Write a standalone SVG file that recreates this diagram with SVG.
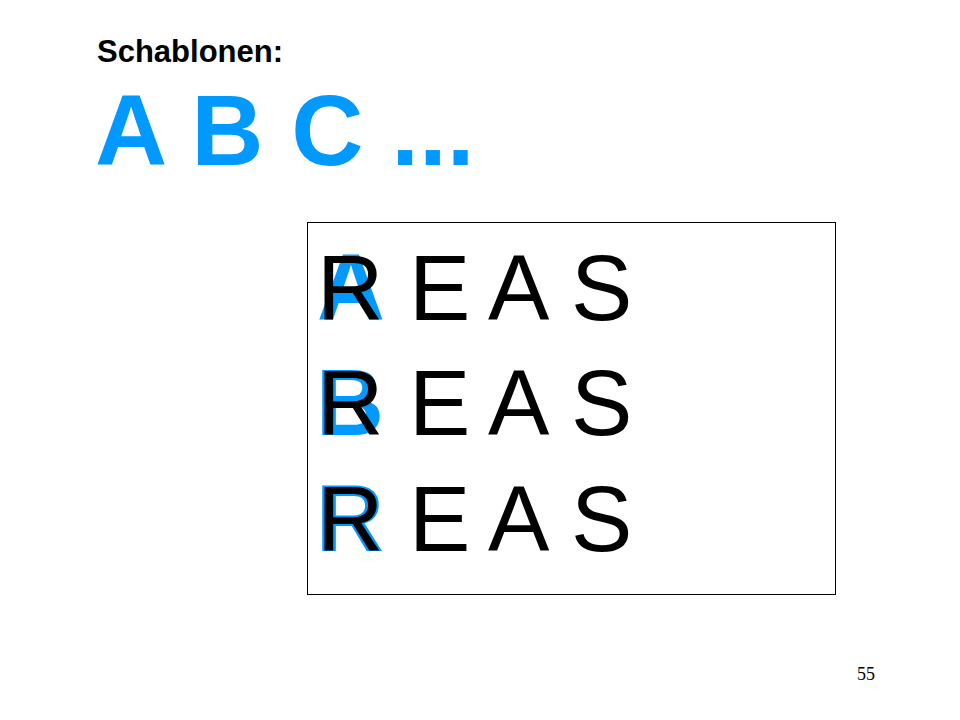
<svg xmlns="http://www.w3.org/2000/svg" width="960" height="720" viewBox="0 0 960 720">
<style>
.hd{font-family:"Liberation Sans",Arial,sans-serif;font-weight:bold;fill:#000}
.big{font-family:"Liberation Sans",Arial,sans-serif;font-weight:bold;fill:#0099FF}
.blue{font-family:"Liberation Sans",Arial,sans-serif;font-weight:bold;font-size:94px;fill:#0099FF}
.row{font-family:"Liberation Sans",Arial,sans-serif;font-size:92px;fill:#000}
.pg{font-family:"Liberation Serif","Times New Roman",serif;font-size:18px;fill:#000}
</style>
<rect width="960" height="720" fill="#fff"/>
<g id="title">
<text class="hd" x="97" y="62" font-size="31">Schablonen:</text>
<text class="big" x="95" y="165" font-size="100">A B C ...</text>
</g>
<g id="box">
<rect x="307.5" y="222.5" width="528" height="372" fill="#fff" stroke="#000" stroke-width="1"/>
</g>
<g id="row1">
<text class="blue" x="317" y="320">A</text>
<text class="row" y="320"><tspan x="317">R</tspan> <tspan x="409">E</tspan> <tspan x="488">A</tspan> <tspan x="571">S</tspan></text>
</g>
<g id="row2">
<text class="blue" x="316" y="435">B</text>
<text class="row" y="435"><tspan x="317">R</tspan> <tspan x="409">E</tspan> <tspan x="488">A</tspan> <tspan x="571">S</tspan></text>
</g>
<g id="row3">
<text class="blue" x="316" y="551">R</text>
<text class="row" y="551"><tspan x="317">R</tspan> <tspan x="409">E</tspan> <tspan x="488">A</tspan> <tspan x="571">S</tspan></text>
</g>
<g id="connectors"></g>
<text class="pg" x="857" y="680">55</text>
</svg>
